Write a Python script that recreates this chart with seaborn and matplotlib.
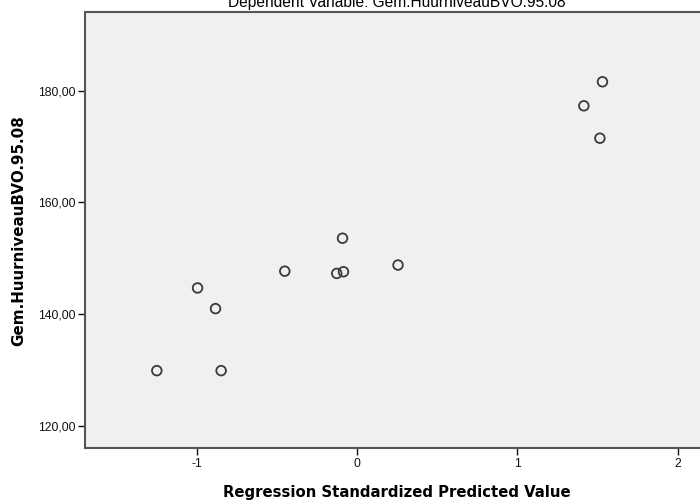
import numpy as np
import pandas as pd
import matplotlib
matplotlib.use("Agg")
import matplotlib.pyplot as plt
import seaborn as sns
from matplotlib.ticker import FuncFormatter

# values
pred_std = [-1.248, -0.994, -0.882, -0.847, -0.450, -0.090, -0.126, -0.084,
            0.256, 1.531, 1.415, 1.515]
huur = [129.9, 144.7, 141.0, 129.9, 147.7, 153.6, 147.3, 147.6,
        148.8, 181.6, 177.3, 171.5]
x_ticks = [-1, 0, 1, 2]
y_ticks = [120, 140, 160, 180]

df = pd.DataFrame({"pred": pred_std, "huur": huur})

sns.set_style("white")
plt.rcParams["font.family"] = ["Liberation Sans", "DejaVu Sans"]
plt.rcParams["axes.unicode_minus"] = False

fig = plt.figure(figsize=(7, 5), dpi=100)
ax = fig.add_axes([0.1214, 0.1034, 0.8916, 0.8716])
ax.set_facecolor("#f0f0f0")

sns.scatterplot(data=df, x="pred", y="huur", ax=ax, s=48,
                facecolors="none", edgecolor="#3a3a3a", linewidth=1.3)

ax.set_xlim(-1.696, 2.196)
ax.set_ylim(116.0, 194.0)
ax.set_xticks(x_ticks)
ax.set_yticks(y_ticks)
ax.yaxis.set_major_formatter(FuncFormatter(lambda v, p: "{:.2f}".format(v).replace(".", ",")))
ax.tick_params(axis="both", direction="out", length=5, width=1, color="#111111",
               labelsize=8.7, labelcolor="#111111", left=True, bottom=True, pad=2)

for side in ["left", "bottom", "top"]:
    ax.spines[side].set_color("#555555")
    ax.spines[side].set_linewidth(1.5)
ax.spines["right"].set_visible(False)

ax.set_xlabel("Regression Standardized Predicted Value", fontsize=10.7,
              fontweight="bold", family="DejaVu Sans", color="black", labelpad=11)
ax.set_ylabel("Gem.HuurniveauBVO.95.08", fontsize=10.9, fontweight="bold",
              family="DejaVu Sans", color="black", labelpad=8)
ax.set_title("Dependent Variable: Gem.HuurniveauBVO.95.08", fontsize=11.2,
             color="black", pad=4)

fig.savefig("out.png", dpi=100)
